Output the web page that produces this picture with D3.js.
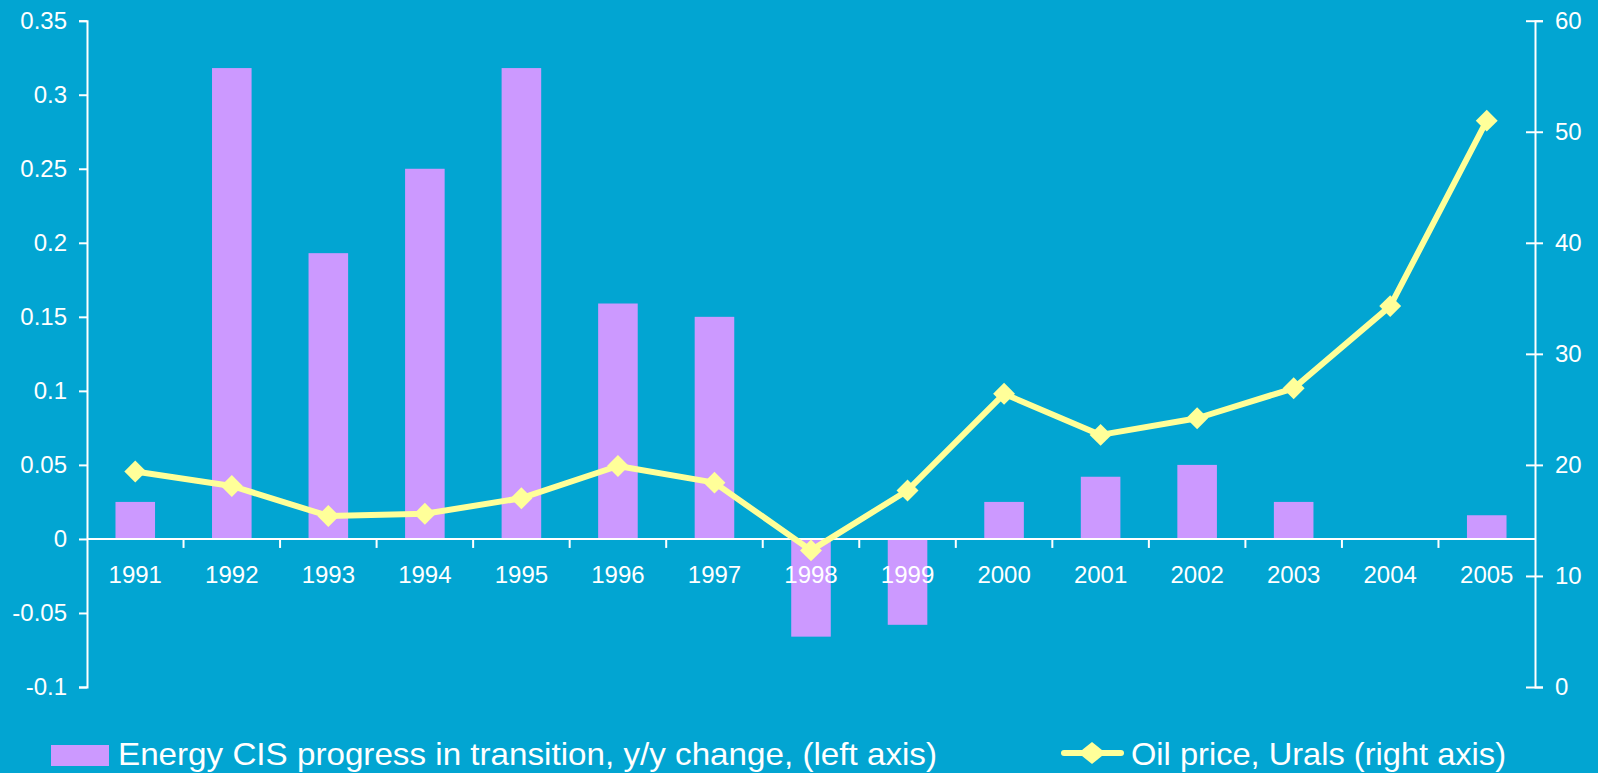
<!DOCTYPE html>
<html lang="en">
<head>
    <meta charset="UTF-8">
    <title>Energy CIS progress vs oil price</title>
    <style>
        body { margin: 0; background: #02A5D2; }
        text { font-family: "Liberation Sans", Arial, sans-serif; fill: #fff; }
    </style>
</head>
<body>
    <script src="https://d3js.org/d3.v7.min.js"></script>
    <div id="container"></div>
    <script>
        var years = ['1991','1992','1993','1994','1995','1996','1997','1998','1999','2000','2001','2002','2003','2004','2005'];
        var progress = [0.025, 0.318, 0.193, 0.25, 0.318, 0.159, 0.15, -0.066, -0.058, 0.025, 0.042, 0.05, 0.025, 0, 0.016];
        var oilPrice = [19.4, 18.1, 15.4, 15.6, 17.0, 19.9, 18.4, 12.3, 17.7, 26.4, 22.7, 24.2, 26.9, 34.3, 51.0];
        var leftTicks = [-0.1, -0.05, 0, 0.05, 0.1, 0.15, 0.2, 0.25, 0.3, 0.35];
        var rightTicks = [0, 10, 20, 30, 40, 50, 60];
        var barLabel = 'Energy CIS progress in transition, y/y change, (left axis)';
        var lineLabel = 'Oil price, Urals (right axis)';

        var W = 1598, H = 773;
        var plot = {left: 87, right: 1535, top: 20.7, bottom: 687};

        var svg = d3.select('#container').append('svg').attr('width', W).attr('height', H);
        svg.append('rect').attr('width', W).attr('height', H).attr('fill', '#02A5D2');

        var x = d3.scaleBand().domain(years).range([plot.left, plot.right]).padding(0);
        var y = d3.scaleLinear().domain([-0.1, 0.35]).range([plot.bottom, plot.top]);
        var y2 = d3.scaleLinear().domain([0, 60]).range([plot.bottom, plot.top]);

        var barW = x.bandwidth() * 0.41;

        // bars
        svg.append('g').selectAll('rect').data(progress).enter()
            .append('rect')
            .attr('x', (d, i) => x(years[i]) + (x.bandwidth() - barW) / 2)
            .attr('y', d => y(Math.max(0, d)))
            .attr('width', barW)
            .attr('height', d => Math.abs(y(d) - y(0)))
            .attr('fill', '#CC99FF');

        // left axis
        var leftAxis = svg.append('g').attr('transform', `translate(${plot.left},0)`)
            .call(d3.axisLeft(y).tickValues(leftTicks).tickSize(8).tickPadding(12).tickFormat(d => String(+d.toFixed(2))));
        // right axis, ticks cross the line
        var rightAxis = svg.append('g').attr('transform', `translate(${plot.right},0)`)
            .call(d3.axisRight(y2).tickValues(rightTicks).tickSize(8).tickPadding(12));
        rightAxis.selectAll('.tick line').attr('x1', -9);

        // category axis on zero line
        var xAxis = svg.append('g').attr('transform', `translate(0,${y(0)})`)
            .call(d3.axisBottom(x).tickSize(0));
        xAxis.selectAll('.tick text').attr('dy', '0.71em').attr('y', 27);
        xAxis.append('g').selectAll('line').data(years.slice(1)).enter()
            .append('line')
            .attr('x1', d => x(d)).attr('x2', d => x(d))
            .attr('y1', 0).attr('y2', 9)
            .attr('stroke', '#fff').attr('stroke-width', 2);

        [leftAxis, rightAxis, xAxis].forEach(g => {
            g.select('.domain').attr('stroke', '#fff').attr('stroke-width', 2);
            g.selectAll('.tick line').attr('stroke', '#fff').attr('stroke-width', 2);
            g.selectAll('.tick text').attr('fill', '#fff').style('font-size', '24px')
                .style('font-family', '"Liberation Sans", Arial, sans-serif');
        });
        xAxis.select('.domain').attr('d', `M${plot.left},0H${plot.right}`);

        // oil line
        var line = d3.line().x((d, i) => x(years[i]) + x.bandwidth() / 2).y(d => y2(d));
        svg.append('path').datum(oilPrice)
            .attr('d', line)
            .attr('fill', 'none')
            .attr('stroke', '#FFFF99')
            .attr('stroke-width', 6)
            .attr('stroke-linejoin', 'round');

        var diamond = d3.symbol(d3.symbolSquare, 240);
        svg.append('g').selectAll('path').data(oilPrice).enter()
            .append('path')
            .attr('d', diamond)
            .attr('transform', (d, i) => `translate(${x(years[i]) + x.bandwidth() / 2},${y2(d)}) rotate(45)`)
            .attr('fill', '#FFFF99');

        // legend
        var legend = svg.append('g');
        legend.append('rect').attr('x', 51).attr('y', 745).attr('width', 58).attr('height', 21).attr('fill', '#CC99FF');
        legend.append('text').attr('x', 118).attr('y', 765)
            .attr('textLength', 819).attr('lengthAdjust', 'spacingAndGlyphs')
            .style('font-size', '32px').text(barLabel);

        legend.append('line').attr('x1', 1064).attr('x2', 1121).attr('y1', 753).attr('y2', 753)
            .attr('stroke', '#FFFF99').attr('stroke-width', 6).attr('stroke-linecap', 'round');
        legend.append('path').attr('d', diamond).attr('transform', 'translate(1092,753) scale(1.25,1) rotate(45)').attr('fill', '#FFFF99');
        legend.append('text').attr('x', 1131).attr('y', 765)
            .attr('textLength', 375).attr('lengthAdjust', 'spacingAndGlyphs')
            .style('font-size', '32px').text(lineLabel);
    </script>
</body>
</html>
